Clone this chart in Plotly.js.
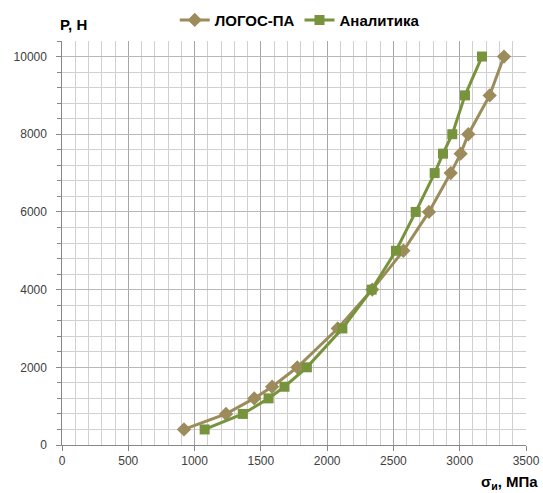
<!DOCTYPE html>
<html><head><meta charset="utf-8">
<script src="https://cdn.plot.ly/plotly-3.0.1.min.js"></script>
<style>html,body{margin:0;padding:0;background:#fff}#c{width:543px;height:493px}</style>
</head><body><div id="c"></div>
<script>
const logosSigma = [920, 1237, 1450, 1585, 1775, 2080, 2340, 2575, 2768, 2932, 3007, 3065, 3226, 3334];
const logosP     = [400, 800, 1200, 1500, 2000, 3000, 4000, 5000, 6000, 7000, 7500, 8000, 9000, 10000];
const anSigma = [1076, 1364, 1558, 1678, 1847, 2115, 2336, 2519, 2668, 2811, 2874, 2944, 3040, 3168];
const anP     = [400, 800, 1200, 1500, 2000, 3000, 4000, 5000, 6000, 7000, 7500, 8000, 9000, 10000];
const names = ['ЛОГОС-ПА', 'Аналитика'];

const traces = [
  {x: logosSigma, y: logosP, name: names[0], mode: 'lines+markers', type: 'scatter',
   line: {color: '#9C8C5C', width: 3}, marker: {symbol: 'diamond', size: 11, color: '#9C8C5C'}},
  {x: anSigma, y: anP, name: names[1], mode: 'lines+markers', type: 'scatter',
   line: {color: '#77933C', width: 3}, marker: {symbol: 'square', size: 10, color: '#77933C'}}
];
const tickFont = {family: 'Liberation Sans, Arial, sans-serif', size: 12, color: '#404040'};
const layout = {
  width: 543, height: 493,
  margin: {l: 62, r: 17, t: 41, b: 48},
  paper_bgcolor: '#fff', plot_bgcolor: '#fff',
  showlegend: true,
  legend: {orientation: 'h', x: 0.552, xanchor: 'center', xref: 'container', yref: 'container', y: 0.959, yanchor: 'middle',
           itemwidth: 30, tracegroupgap: 0,
           font: {family: 'Liberation Sans, Arial, sans-serif', size: 15, color: '#000', weight: 'bold'}},
  xaxis: {range: [0, 3500], dtick: 500, tick0: 0, showgrid: true, gridcolor: '#a6a6a6', gridwidth: 1,
          minor: {dtick: 100, showgrid: true, gridcolor: '#d0d0d0', gridwidth: 1},
          ticks: 'outside', ticklen: 5, tickcolor: '#888', showline: true, linecolor: '#888', linewidth: 1,
          zeroline: false, tickfont: tickFont, tickformat: 'd', automargin: false},
  yaxis: {range: [0, 10400], dtick: 2000, tick0: 0, showgrid: true, gridcolor: '#b8b8b8', gridwidth: 1,
          minor: {dtick: 400, showgrid: true, gridcolor: '#d0d0d0', gridwidth: 1, ticks: 'outside', ticklen: 4, tickcolor: '#888'},
          ticks: 'outside', ticklen: 5, tickcolor: '#888', showline: true, linecolor: '#888', linewidth: 1,
          zeroline: false, tickfont: tickFont, tickformat: 'd', ticksuffix: '  ', automargin: false},
  annotations: [
    {text: '<b>P, H</b>', xref: 'paper', yref: 'paper', x: 0, xshift: -4, y: 1.015, xanchor: 'left', yanchor: 'bottom', showarrow: false,
     font: {family: 'Liberation Sans, Arial, sans-serif', size: 15, color: '#000'}},
    {text: '<b>σ<sub>и</sub>, МПа</b>', xref: 'paper', yref: 'paper', x: 1.0, xshift: 14, y: -0.094, xanchor: 'right', yanchor: 'middle', showarrow: false,
     font: {family: 'Liberation Sans, Arial, sans-serif', size: 15, color: '#000'}}
  ]
};
Plotly.newPlot('c', traces, layout, {displayModeBar: false, staticPlot: true});
</script></body></html>
